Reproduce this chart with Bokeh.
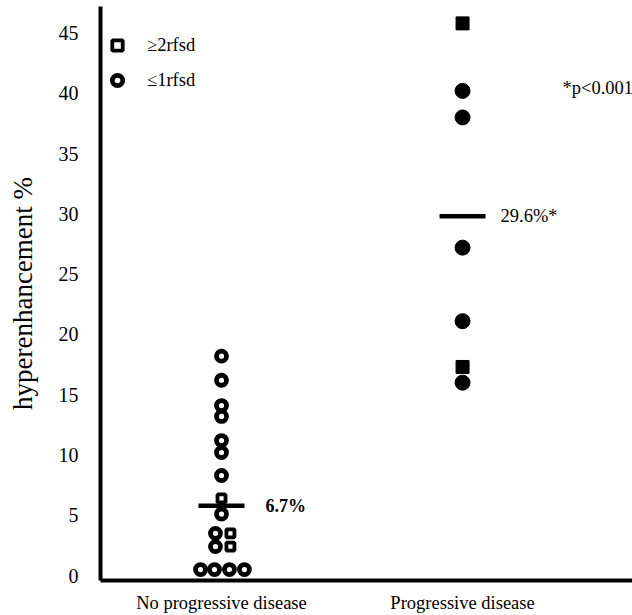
from bokeh.plotting import figure
from bokeh.models import Range1d, FixedTicker, Legend, LegendItem, ColumnDataSource
from bokeh.core.properties import value
from bokeh.embed import file_html
from bokeh.resources import INLINE

# ---- data ----
categories = ["No progressive disease", "Progressive disease"]
cat_pos = [1, 2]

noprog_circles = [18.2, 16.2, 14.1, 13.2, 11.2, 10.2, 8.3, 5.1, 3.5, 2.4, 0.5, 0.5, 0.5, 0.5]
noprog_circles_jitter = [0, 0, 0, 0, 0, 0, 0, 0, -0.025, -0.025, -0.087, -0.029, 0.033, 0.095]
noprog_squares = [6.4, 3.5, 2.4]
noprog_squares_jitter = [0, 0.037, 0.037]

prog_circles = [40.2, 38.0, 27.2, 21.1, 16.0]
prog_squares = [45.8, 17.3]

mean_marks = [5.8, 29.8]
mean_labels = ["6.7%", "29.6%*"]

pvalue_text = "*p<0.001"
pvalue_y = 40.4

yticks = [0, 5, 10, 15, 20, 25, 30, 35, 40, 45]

FONT = "Liberation Serif"

p = figure(width=632, height=615, output_backend="svg", toolbar_location=None,
           x_range=Range1d(0.498, 2.705), y_range=Range1d(-0.41, 47.2),
           min_border_left=100, min_border_right=0, min_border_top=6, min_border_bottom=33)
p.outline_line_color = None
p.xgrid.visible = False
p.ygrid.visible = False
p.background_fill_color = "white"
p.border_fill_color = "white"

# axes
for ax in (p.xaxis[0], p.yaxis[0]):
    ax.axis_line_width = 4
    ax.axis_line_color = "black"
    ax.major_tick_out = 0
    ax.major_tick_in = 0
    ax.minor_tick_out = 0
    ax.minor_tick_in = 0
    ax.major_label_text_font = FONT
    ax.major_label_text_color = "black"

p.yaxis.ticker = FixedTicker(ticks=yticks)
p.yaxis.major_label_text_font_size = "20px"
p.yaxis.major_label_standoff = 22
p.yaxis.axis_label = "hyperenhancement %"
p.yaxis.axis_label_text_font = FONT
p.yaxis.axis_label_text_font_size = "27px"
p.yaxis.axis_label_text_font_style = "normal"
p.yaxis.axis_label_text_color = "black"
p.yaxis.axis_label_standoff = 18

p.xaxis.ticker = FixedTicker(ticks=cat_pos)
p.xaxis.major_label_overrides = {cp: c for cp, c in zip(cat_pos, categories)}
p.xaxis.major_label_text_font_size = "18.5px"
p.xaxis.major_label_standoff = 12

# points: no progressive disease (open markers)
src_nc = ColumnDataSource(dict(x=[cat_pos[0] + j for j in noprog_circles_jitter], y=noprog_circles))
src_ns = ColumnDataSource(dict(x=[cat_pos[0] + j for j in noprog_squares_jitter], y=noprog_squares))
r_circ = p.scatter("x", "y", source=src_nc, marker="circle", size=10, fill_color=None,
                   line_color="black", line_width=4.8)
r_sq = p.scatter("x", "y", source=src_ns, marker="square", size=8, fill_color="white",
                 line_color="black", line_width=3.8)

# points: progressive disease (filled markers)
p.scatter([cat_pos[1]] * len(prog_squares), prog_squares, marker="square", size=13,
          fill_color="black", line_color="black")
p.scatter([cat_pos[1]] * len(prog_circles), prog_circles, marker="circle", size=15,
          fill_color="black", line_color="black")

# mean lines
p.scatter(cat_pos, mean_marks, marker="dash", size=46, line_color="black", line_width=4.5)
p.text(x=cat_pos[:1], y=mean_marks[:1], text=mean_labels[:1], x_offset=44,
       text_font=value(FONT), text_font_size="18px", text_font_style="bold",
       text_baseline="middle", text_align="left", text_color="black")
p.text(x=cat_pos[1:], y=mean_marks[1:], text=mean_labels[1:], x_offset=38,
       text_font=value(FONT), text_font_size="18.5px", text_font_style="normal",
       text_baseline="middle", text_align="left", text_color="black")
p.text(x=[cat_pos[1]], y=[pvalue_y], text=[pvalue_text], x_offset=100,
       text_font=value(FONT), text_font_size="18.5px", text_font_style="normal",
       text_baseline="middle", text_align="left", text_color="black")

legend = Legend(items=[LegendItem(label="≥2rfsd", renderers=[r_sq]),
                       LegendItem(label="≤1rfsd", renderers=[r_circ])],
                location=(4, 487))
legend.glyph_width = 26
legend.glyph_height = 26
legend.spacing = 9
legend.padding = 0
legend.margin = 0
legend.label_standoff = 17
legend.border_line_color = None
legend.background_fill_alpha = 0
legend.label_text_font = FONT
legend.label_text_font_size = "18.5px"
legend.label_text_color = "black"
p.add_layout(legend, "center")

open("out.html", "w").write(file_html(p, INLINE))
